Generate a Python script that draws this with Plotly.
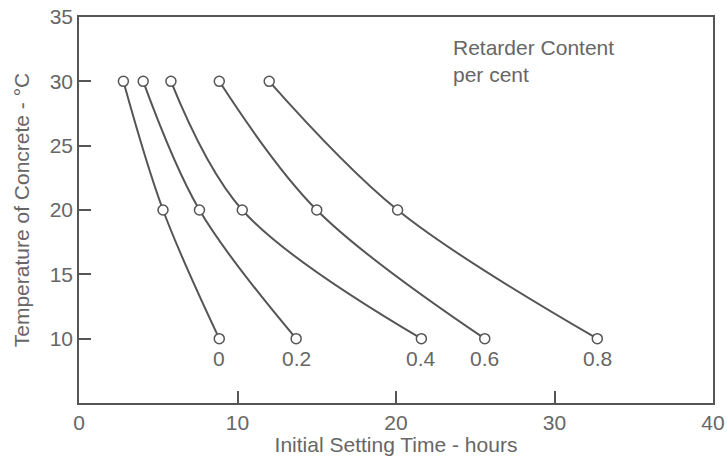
import plotly.graph_objects as go

retarder_labels = ["0", "0.2", "0.4", "0.6", "0.8"]
temperature = [30, 20, 10]
setting_time = {
    "0":   [2.8, 5.3, 8.85],
    "0.2": [4.05, 7.6, 13.7],
    "0.4": [5.8, 10.3, 21.6],
    "0.6": [8.85, 15.0, 25.6],
    "0.8": [12.0, 20.1, 32.7],
}
x_ticks = [0, 10, 20, 30, 40]
y_ticks = [10, 15, 20, 25, 30, 35]

GRAY = "#555555"
TXT = "#666666"
FONT = "Liberation Sans, Arial, sans-serif"
FS = 21

fig = go.Figure()
for lab in retarder_labels:
    xs = setting_time[lab]
    fig.add_trace(go.Scatter(
        x=xs, y=temperature, mode="lines+markers",
        line=dict(color=GRAY, width=2, shape="spline", smoothing=1.0),
        marker=dict(symbol="circle", size=10, color="white",
                    line=dict(color=GRAY, width=1.5)),
        showlegend=False, hoverinfo="skip",
    ))
    fig.add_annotation(x=xs[-1], y=temperature[-1], text=lab, showarrow=False,
                       yshift=-20, font=dict(family=FONT, size=FS, color=TXT))

fig.add_annotation(x=0.587, y=0.955, xref="paper", yref="paper",
                   text="Retarder Content<br>per cent", showarrow=False,
                   xanchor="left", yanchor="top", align="left",
                   font=dict(family=FONT, size=FS, color=TXT))

axis_common = dict(
    showgrid=False, zeroline=False, showline=True, linecolor=GRAY, linewidth=1.5,
    mirror=True, ticks="inside", ticklen=12, tickcolor=GRAY, tickwidth=1.5,
    tickfont=dict(family=FONT, size=FS, color=TXT), automargin=False,
)
fig.update_xaxes(range=[0, 40], tickvals=x_ticks, ticktext=[str(v) for v in x_ticks],
                 title=dict(text="Initial Setting Time - hours", standoff=0,
                            font=dict(family=FONT, size=FS, color=TXT)),
                 **axis_common)
fig.update_yaxes(range=[5, 35], tickvals=y_ticks, ticktext=[str(v) for v in y_ticks],
                 title=dict(text="Temperature of Concrete - °C", standoff=14,
                            font=dict(family=FONT, size=FS, color=TXT)),
                 **axis_common)

fig.update_layout(
    width=727, height=456,
    margin=dict(l=79, r=14, t=17, b=53, autoexpand=False),
    paper_bgcolor="white", plot_bgcolor="white",
)
fig.write_html("out.html")
